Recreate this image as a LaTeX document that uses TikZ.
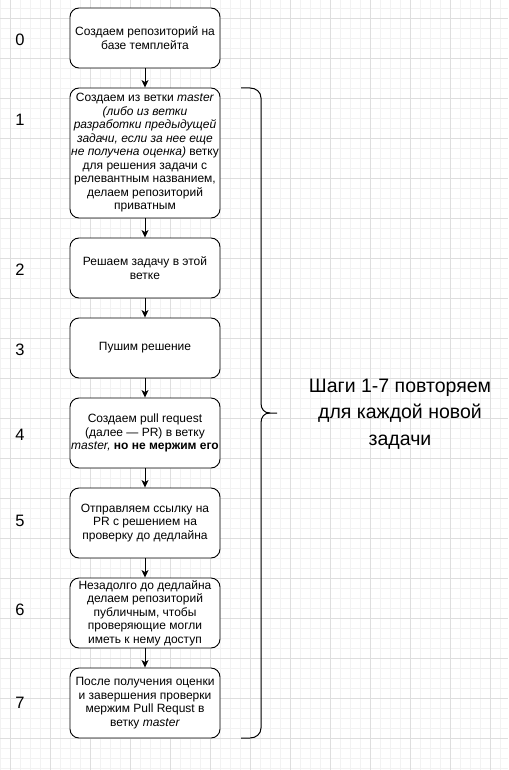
\documentclass[tikz,border=0pt]{standalone}
\usepackage{fontspec}
\setmainfont{Liberation Sans}
\usetikzlibrary{arrows.meta}
\definecolor{gridminor}{RGB}{242,242,242}
\definecolor{gridmajor}{RGB}{222,222,222}
\tikzset{
  stepbox/.style={draw=black, line width=0.9pt, fill=white, rounded corners=9pt,
    minimum width=150pt, inner sep=0pt, align=center,
    font=\fontsize{12}{13.5}\selectfont},
  numlabel/.style={font=\fontsize{16.5}{18}\selectfont, inner sep=0pt},
  arr/.style={draw=black, line width=0.9pt, -{Stealth[length=7.5pt,width=7pt,inset=2pt]}},
  bracestyle/.style={draw=black, line width=1pt},
}
\begin{document}
\begin{tikzpicture}[x=1pt,y=-1pt]
\useasboundingbox (0,0) rectangle (508,770);
\fill[white] (0,0) rectangle (508,770);
% grid
\foreach \x in {0,10,...,500} \draw[gridminor, line width=0.6pt] (\x,0) -- (\x,770);
\foreach \y in {8,18,...,768} \draw[gridminor, line width=0.6pt] (0,\y) -- (508,\y);
\foreach \x in {10,50,...,490} \draw[gridmajor, line width=0.7pt] (\x,0) -- (\x,770);
\foreach \y in {18,58,...,738} \draw[gridmajor, line width=0.7pt] (0,\y) -- (508,\y);

% step numbers
\node[numlabel] (n0) at (20,40) {0};
\node[numlabel] (n1) at (20,120) {1};
\node[numlabel] (n2) at (20,270) {2};
\node[numlabel] (n3) at (20,350) {3};
\node[numlabel] (n4) at (20,435) {4};
\node[numlabel] (n5) at (20,521) {5};
\node[numlabel] (n6) at (20,610) {6};
\node[numlabel] (n7) at (20,703) {7};

% boxes
\node[stepbox, minimum height=60pt] (b0) at (145,38) {Создаем репозиторий на\\базе темплейта};
\node[stepbox, minimum height=130pt] (b1) at (145,153) {Создаем из ветки \textit{master}\\\textit{(либо из ветки}\\\textit{разработки предыдущей}\\\textit{задачи, если за нее еще}\\\textit{не получена оценка)} ветку\\для решения задачи с\\релевантным названием,\\делаем репозиторий\\приватным};
\node[stepbox, minimum height=60pt] (b2) at (145,268) {Решаем задачу в этой\\ветке};
\node[stepbox, minimum height=60pt] (b3) at (145,348) {Пушим решение};
\node[stepbox, minimum height=70pt] (b4) at (145,433) {Создаем pull request\\(далее — PR) в ветку\\\textit{master,} \textbf{но не мержим его}};
\node[stepbox, minimum height=70pt] (b5) at (145,523) {Отправляем ссылку на\\PR с решением на\\проверку до дедлайна};
\node[stepbox, minimum height=70pt] (b6) at (145,613) {Незадолго до дедлайна\\делаем репозиторий\\публичным, чтобы\\проверяющие могли\\иметь к нему доступ};
\node[stepbox, minimum height=70pt] (b7) at (145,703) {После получения оценки\\и завершения проверки\\мержим Pull Requst в\\ветку \textit{master}};

% connectors
\draw[arr] (b0) -- (b1);
\draw[arr] (b1) -- (b2);
\draw[arr] (b2) -- (b3);
\draw[arr] (b3) -- (b4);
\draw[arr] (b4) -- (b5);
\draw[arr] (b5) -- (b6);
\draw[arr] (b6) -- (b7);

% brace
\coordinate (btop) at (241,88);
\coordinate (btip) at (277,413);
\coordinate (bbot) at (241,738);
\draw[bracestyle, line join=round] (btop) -- (250,88) .. controls (256,88) and (261,92) .. (261,98)
  -- (261,403) .. controls (261,409) and (264,413) .. (270,413) -- (btip);
\draw[bracestyle, line join=round] (270,413) .. controls (264,413) and (261,417) .. (261,423)
  -- (261,728) .. controls (261,734) and (256,738) .. (250,738) -- (bbot);

\node[align=center, font=\fontsize{19.5}{26.5}\selectfont, inner sep=0pt] (note) at (400,414)
  {Шаги 1-7 повторяем\\для каждой новой\\задачи};
\end{tikzpicture}
\end{document}
